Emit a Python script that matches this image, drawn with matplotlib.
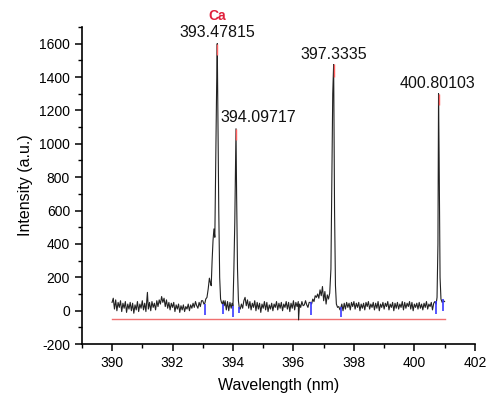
import matplotlib
matplotlib.use("Agg")
import matplotlib.pyplot as plt
from matplotlib.ticker import MultipleLocator

plt.rcParams['font.family'] = ['Liberation Sans', 'DejaVu Sans']
plt.rcParams['axes.unicode_minus'] = False

# Spectrum (wavelength nm, intensity a.u.)
wavelength = [
    390.00, 390.04, 390.08, 390.12, 390.16, 390.20, 390.24, 390.28, 390.32, 390.36,
    390.40, 390.44, 390.48, 390.52, 390.56, 390.60, 390.64, 390.68, 390.72, 390.76,
    390.80, 390.84, 390.88, 390.92, 390.96, 391.00, 391.04, 391.08, 391.12, 391.17,
    391.20, 391.24, 391.28, 391.32, 391.36, 391.40, 391.44, 391.48, 391.52, 391.56,
    391.60, 391.64, 391.68, 391.72, 391.76, 391.80, 391.84, 391.88, 391.92, 391.96,
    392.00, 392.04, 392.08, 392.12, 392.16, 392.20, 392.24, 392.28, 392.32, 392.36,
    392.40, 392.44, 392.48, 392.52, 392.56, 392.60, 392.64, 392.68, 392.72, 392.76,
    392.80, 392.84, 392.88, 392.92, 392.96, 393.00, 393.04, 393.07, 393.10, 393.14,
    393.18, 393.22, 393.25, 393.28, 393.31, 393.34, 393.37, 393.40, 393.43, 393.46,
    393.48, 393.50, 393.53, 393.56, 393.59, 393.62, 393.65, 393.68, 393.71, 393.74,
    393.78, 393.82, 393.86, 393.90, 393.94, 393.97, 394.00, 394.03, 394.06, 394.08,
    394.10, 394.12, 394.15, 394.18, 394.21, 394.24, 394.28, 394.32, 394.36, 394.40,
    394.44, 394.48, 394.52, 394.56, 394.60, 394.64, 394.68, 394.72, 394.76, 394.80,
    394.84, 394.88, 394.92, 394.96, 395.00, 395.04, 395.08, 395.12, 395.16, 395.20,
    395.24, 395.28, 395.32, 395.36, 395.40, 395.44, 395.48, 395.52, 395.56, 395.60,
    395.64, 395.68, 395.72, 395.76, 395.80, 395.84, 395.88, 395.92, 395.96, 396.00,
    396.04, 396.08, 396.12, 396.16, 396.17, 396.20, 396.24, 396.28, 396.32, 396.36,
    396.40, 396.44, 396.48, 396.52, 396.57, 396.60, 396.64, 396.68, 396.72, 396.76,
    396.80, 396.84, 396.88, 396.92, 396.96, 397.00, 397.04, 397.08, 397.12, 397.16,
    397.20, 397.24, 397.27, 397.30, 397.33, 397.36, 397.39, 397.42, 397.46, 397.50,
    397.54, 397.57, 397.60, 397.64, 397.68, 397.72, 397.76, 397.80, 397.84, 397.88,
    397.92, 397.96, 398.00, 398.04, 398.08, 398.12, 398.16, 398.20, 398.24, 398.28,
    398.32, 398.36, 398.40, 398.44, 398.48, 398.52, 398.56, 398.60, 398.64, 398.68,
    398.72, 398.76, 398.80, 398.84, 398.88, 398.92, 398.96, 399.00, 399.04, 399.08,
    399.12, 399.16, 399.20, 399.24, 399.28, 399.32, 399.36, 399.40, 399.44, 399.48,
    399.52, 399.56, 399.60, 399.64, 399.68, 399.72, 399.76, 399.80, 399.84, 399.88,
    399.92, 399.96, 400.00, 400.04, 400.08, 400.12, 400.16, 400.20, 400.24, 400.28,
    400.32, 400.36, 400.40, 400.44, 400.48, 400.52, 400.56, 400.60, 400.64, 400.68,
    400.72, 400.75, 400.78, 400.80, 400.82, 400.85, 400.88, 400.92, 400.96, 401.00,
]
intensity = [
    50, 75, 10, 65, 0, 50, 20, 60, -5, 45,
    15, 55, -10, 40, 10, 50, 0, 45, -15, 35,
    5, 55, -5, 40, 15, 60, 5, 45, -5, 110,
    10, 50, 0, 55, 20, 45, 5, 60, 25, 65,
    40, 85, 50, 75, 25, 65, 15, 50, 5, 45,
    20, 50, -5, 35, 10, 40, -10, 30, 5, 35,
    -5, 25, 10, 40, 0, 35, 15, 45, 20, 55,
    30, 15, 50, 25, 60, 60, 40, 45, 70, 80,
    130, 195, 170, 150, 300, 420, 490, 440, 900, 1350,
    1600, 1200, 600, 200, 70, 50, 40, 60, 30, 60,
    5, 55, 0, 50, 15, 45, 30, 250, 530, 800,
    1090, 700, 250, 60, 15, 10, 40, 15, 60, 80,
    30, 65, 15, 55, 5, 45, 20, 60, 0, 50,
    10, 45, -10, 40, 15, 55, 5, 50, -5, 35,
    10, 45, 0, 40, 20, 55, 5, 45, 15, 50,
    0, 40, 20, 55, 10, 50, -5, 45, 15, 60,
    5, 50, 25, 55, -55, 40, 20, 55, 30, 35,
    60, 35, 20, 50, 50, 40, 70, 55, 90, 80,
    100, 75, 125, 90, 145, 60, 115, 40, 95, 70,
    105, 250, 800, 1300, 1475, 600, 150, 40, 20, 25,
    5, 20, 40, 0, 45, 10, 50, 20, 45, 5,
    50, 25, 55, 10, 45, 20, 50, 0, 40, 15,
    45, 5, 50, 25, 55, 10, 40, 20, 50, 5,
    45, 15, 55, 0, 40, 20, 50, 10, 45, 25,
    55, 5, 40, 20, 50, 0, 45, 15, 50, 10,
    40, 20, 55, 5, 50, 15, 45, 25, 55, 10,
    50, 0, 40, 20, 45, 10, 50, 15, 40, 5,
    45, 20, 55, 10, 40, 25, 50, 5, 45, 55,
    40, 80, 400, 1300, 900, 200, 70, 50, 60, 55,
]

# Peak annotations
peak_wl = [393.47815, 394.09717, 397.3335, 400.80103]
peak_top = [1600, 1090, 1475, 1300]
peak_red_bottom = [1530, 1020, 1400, 1230]
peak_labels = ["393.47815", "394.09717", "397.3335", "400.80103"]
label_x = [393.47815, 394.85, 397.3335, 400.78]
label_y = [1665, 1155, 1535, 1360]

# Blue baseline markers
blue_x = [393.07, 393.67, 394.00, 394.21, 396.57, 397.57, 400.72, 400.96]
blue_top = [40, 40, 30, 20, 50, 20, 60, 70]
blue_bottom = [-25, -20, -40, -15, -25, -35, -20, 0]

# Red baseline
base_x = [390.0, 401.0]
base_y = [-52, -52]

fig = plt.figure(figsize=(4.87, 3.96), dpi=100)
ax = fig.add_axes([0.168, 0.131, 0.807, 0.801])

ax.plot(base_x, base_y, color='#f07070', lw=1.0, zorder=1)
ax.plot(wavelength, intensity, color='#222222', lw=0.8, zorder=2)
ax.vlines(blue_x, blue_bottom, blue_top, color='#3a3aff', lw=1.2, zorder=3)
ax.vlines(peak_wl, peak_red_bottom, peak_top, color='#ff6060', lw=1.0, zorder=4)

for lx, ly, lab in zip(label_x, label_y, peak_labels):
    ax.text(lx, ly, lab, ha='center', va='center', fontsize=11.5, color='#111111')

ax.text(peak_wl[0], 1765, "Ca", ha='center', va='center', fontsize=10,
        fontweight='bold', color='#e0203c', clip_on=False)

ax.set_xlim(389, 402)
ax.set_ylim(-200, 1700)
ax.xaxis.set_major_locator(MultipleLocator(2))
ax.xaxis.set_minor_locator(MultipleLocator(1))
ax.yaxis.set_major_locator(MultipleLocator(200))
ax.yaxis.set_minor_locator(MultipleLocator(100))
ax.spines['top'].set_visible(False)
ax.spines['right'].set_visible(False)
for s in ('left', 'bottom'):
    ax.spines[s].set_linewidth(1.2)
ax.tick_params(which='major', direction='out', length=5, width=1.1, labelsize=10)
ax.tick_params(which='minor', direction='out', length=3, width=1.0)
ax.set_xlabel("Wavelength (nm)", fontsize=11.5, labelpad=6)
ax.set_ylabel("Intensity (a.u.)", fontsize=11.5, labelpad=4)

fig.savefig("out.png", dpi=100)
